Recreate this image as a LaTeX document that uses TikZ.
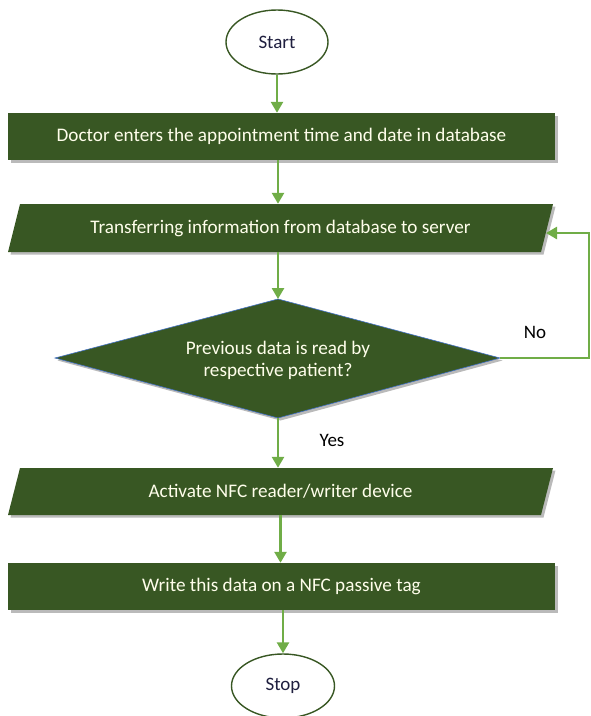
\documentclass[tikz,border=0pt]{standalone}
\usepackage{fontspec}
\setmainfont{Carlito}
\usetikzlibrary{shadows,arrows.meta,shapes.geometric}
\definecolor{dkgreen}{HTML}{385723}
\definecolor{ltgreen}{HTML}{70AD47}
\definecolor{dblue}{HTML}{4472C4}
\definecolor{txtblk}{HTML}{1F1F3F}
\tikzset{
  shapefill/.style={fill=dkgreen, drop shadow={shadow xshift=2.5pt, shadow yshift=-2.5pt, fill=black!45, opacity=0.6}},
  boxtext/.style={text=white!92!yellow, font=\fontsize{19.2}{22}\selectfont, inner sep=0pt, align=center},
  term/.style={ellipse, draw=dkgreen, line width=1.4pt, fill=white, text=txtblk, font=\fontsize{19}{22}\selectfont, inner sep=0pt},
  flow/.style={draw=ltgreen, line width=2.6pt, -{Triangle[length=11pt,width=12pt]}},
  lbl/.style={text=black, font=\fontsize{19}{22}\selectfont, inner sep=0pt}
}
\begin{document}
\begin{tikzpicture}[x=1pt,y=-1pt]
\useasboundingbox (0,0) rectangle (590,716);
% start
\node[term, minimum width=102, minimum height=64] (start) at (277,42) {Start};
% process 1
\fill[shapefill] (8,113) rectangle (555,160);
\node[boxtext, minimum width=547, minimum height=47] (p1) at (281.5,136.5) {Doctor enters the appointment time and date in database};
% io 2
\fill[shapefill] (20,204) -- (553,204) -- (541,252) -- (8,252) -- cycle;
\node[boxtext, minimum width=533, minimum height=48] (p2) at (280.5,228) {Transferring information from database to server};
% decision
\fill[shapefill] (55,358) -- (278,299) -- (500,358) -- (278,418) -- cycle;
\draw[dblue, line width=0.6pt] (55,358) -- (278,299) -- (500,358) -- (278,418) -- cycle;
\coordinate (dtop) at (278,299);
\coordinate (dbot) at (278,418);
\coordinate (dright) at (500,358);
\node[boxtext] (d) at (278,360) {Previous data is read by\\respective patient?};
% io 3
\fill[shapefill] (20,468) -- (553,468) -- (541,515) -- (8,515) -- cycle;
\node[boxtext, minimum width=533, minimum height=47] (p3) at (280.5,491.5) {Activate NFC reader/writer device};
% process 4
\fill[shapefill] (8,563) rectangle (555,610);
\node[boxtext, minimum width=547, minimum height=47] (p4) at (281.5,586.5) {Write this data on a NFC passive tag};
% stop
\node[term, minimum width=103, minimum height=64] (stop) at (283,686) {Stop};
% connectors
\draw[flow] (start.south) -- (start.south |- p1.north);
\draw[flow] (p1.south -| dtop) -- (dtop |- p2.north);
\draw[flow] (dtop |- p2.south) -- (dtop);
\draw[flow] (dbot) -- (dbot |- p3.north);
\draw[flow] (p3.south) -- (p3.south |- p4.north);
\draw[flow] (p4.south -| stop.north) -- (stop.north);
\coordinate (c1) at (589,358);
\coordinate (c2) at (589,233);
\coordinate (p2e) at (546,233);
\draw[flow] (dright) -- (c1) -- (c2) -- (p2e);
\node[lbl] (no) at (535,332) {No};
\node[lbl] (yes) at (332,440) {Yes};
\end{tikzpicture}
\end{document}
